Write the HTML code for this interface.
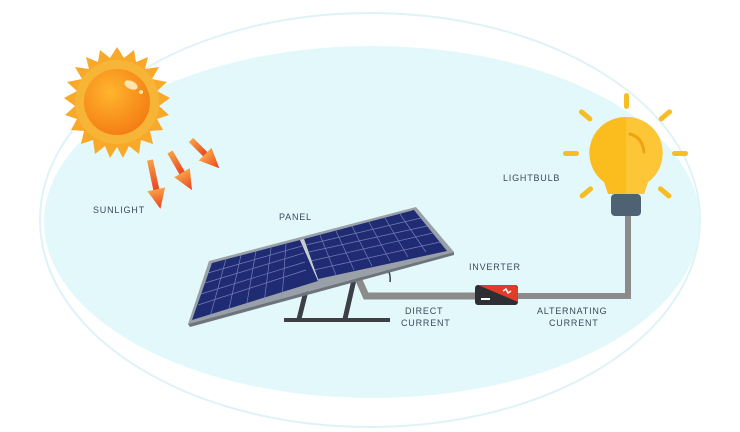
<!DOCTYPE html>
<html><head><style>
html,body{margin:0;padding:0;background:#fff;}
svg{display:block}
text{font-family:"Liberation Sans",sans-serif;font-size:9px;fill:#3b4a5a;letter-spacing:0.8px}
</style></head><body>
<svg width="740" height="432" viewBox="0 0 740 432" xmlns="http://www.w3.org/2000/svg">
<defs>
<radialGradient id="sun" cx="0.4" cy="0.35" r="0.7"><stop offset="0" stop-color="#ffb52e"/><stop offset="1" stop-color="#f47b12"/></radialGradient>
<linearGradient id="arr" x1="0" y1="0" x2="0" y2="1"><stop offset="0" stop-color="#f8a045"/><stop offset="1" stop-color="#e8401e"/></linearGradient>
</defs>
<ellipse cx="370" cy="220" rx="330" ry="207" fill="none" stroke="#dff3f6" stroke-width="2"/>
<ellipse cx="372" cy="222" rx="328" ry="176" fill="#e2f8fb"/>
<!-- sun -->
<g transform="translate(117,102)">
<polygon fill="#f8a92a" points="0,-55 7,-44 17,-52 19,-40 31,-45 28,-33 42,-35 35,-23 50,-20 40,-11 53,-4 42,4 52,13 40,17 46,28 33,29 36,42 24,38 22,52 12,44 6,56 0,45 -7,56 -12,44 -22,52 -24,38 -36,42 -33,29 -46,28 -40,17 -52,13 -42,4 -53,-4 -40,-11 -50,-20 -35,-23 -42,-35 -28,-33 -31,-45 -19,-40 -17,-52 -7,-44"/>
<circle r="42" fill="#f7b538"/>
<circle r="33" fill="url(#sun)"/>
<ellipse cx="14" cy="-17" rx="7" ry="4" fill="#ffe5b0" transform="rotate(25 14 -17)"/>
<circle cx="24" cy="-10" r="2" fill="#ffe5b0"/>
</g>
<g fill="url(#arr)">
<g transform="translate(150,160) rotate(-12)"><rect x="-3" y="0" width="6" height="32"/><polygon points="-9,30 9,30 0,50"/></g>
<g transform="translate(170,152) rotate(-30)"><rect x="-3" y="0" width="6" height="26"/><polygon points="-9,24 9,24 0,44"/></g>
<g transform="translate(191,140) rotate(-45)"><rect x="-3" y="0" width="6" height="22"/><polygon points="-9,20 9,20 0,40"/></g>
</g>
<text x="93" y="213">SUNLIGHT</text>
<text x="279" y="220">PANEL</text>
<text x="503" y="181">LIGHTBULB</text>
<text x="469" y="270">INVERTER</text>
<text x="405" y="314">DIRECT</text>
<text x="401" y="326">CURRENT</text>
<text x="537" y="314">ALTERNATING</text>
<text x="549" y="326">CURRENT</text>
<!-- stand -->
<rect x="284" y="318" width="106" height="4" fill="#3c3f45"/>
<polygon points="296,321 301,321 310,285 305,285" fill="#3c3f45"/>
<polygon points="342,321 347,321 356,282 351,282" fill="#3c3f45"/>
<!-- wires -->
<polyline points="358,278 366,296 480,296" fill="none" stroke="#8b8b8b" stroke-width="7"/>
<polyline points="510,296 628,296 628,210" fill="none" stroke="#8b8b8b" stroke-width="6"/>
<path d="M372,272 q20,-10 18,10" fill="none" stroke="#3c3f45" stroke-width="1.5"/>
<!-- panel -->
<polygon points="188,324 209,261 416,207 454,252" fill="#9aa0a8"/>
<polygon points="192,320 212,263 300,240 318,281" fill="#1f2b73"/>
<polygon points="318,279 304,239 414,210 447,251" fill="#1f2b73"/>
<polygon points="300,240 304,239 318,279 318,281" fill="#c9ccd2"/>
<g stroke="#8a93c9" stroke-width="0.7" opacity="0.8">
<line x1="210" y1="317" x2="226" y2="259"/><line x1="228" y1="313" x2="241" y2="255"/><line x1="246" y1="308" x2="256" y2="251"/><line x1="264" y1="303" x2="271" y2="248"/><line x1="282" y1="298" x2="286" y2="244"/>
<line x1="198" y1="305" x2="306" y2="270"/><line x1="201" y1="294" x2="305" y2="262"/><line x1="205" y1="283" x2="304" y2="253"/><line x1="208" y1="273" x2="302" y2="246"/>
<line x1="336" y1="275" x2="320" y2="235"/><line x1="354" y1="270" x2="336" y2="231"/><line x1="372" y1="266" x2="352" y2="226"/><line x1="390" y1="261" x2="369" y2="222"/><line x1="408" y1="257" x2="385" y2="218"/><line x1="426" y1="252" x2="400" y2="214"/>
<line x1="314" y1="270" x2="440" y2="242"/><line x1="311" y1="261" x2="433" y2="233"/><line x1="309" y1="252" x2="427" y2="226"/><line x1="306" y1="245" x2="421" y2="218"/>
</g>
<polygon points="188,324 454,252 454,255 190,327" fill="#6e747c"/>
<!-- inverter -->
<rect x="475" y="285" width="43" height="20" rx="3" fill="#2d2f35"/>
<polygon points="478,285 515,285 518,288 518,302" fill="#e23b2a"/>
<path d="M503,291 l3,-2 l2,4 l3,-2" stroke="#fff" stroke-width="1.5" fill="none"/>
<rect x="481" y="298" width="9" height="2" fill="#fff"/>
<!-- bulb -->
<g fill="#f6bd24">
<rect x="624" y="93" width="5" height="16" rx="2.5"/>
<rect x="563" y="151" width="16" height="5" rx="2.5"/>
<rect x="672" y="151" width="16" height="5" rx="2.5"/>
<rect x="578" y="113" width="16" height="5" rx="2.5" transform="rotate(40 586 115)"/>
<rect x="657" y="113" width="16" height="5" rx="2.5" transform="rotate(-40 665 115)"/>
<rect x="578" y="190" width="16" height="5" rx="2.5" transform="rotate(-40 586 192)"/>
<rect x="657" y="190" width="16" height="5" rx="2.5" transform="rotate(40 665 192)"/>
</g>
<path d="M626,117 a36,36 0 0 1 22,65 l-4,12 h-36 l-4,-12 a36,36 0 0 1 22,-65z" fill="#fbbd1e"/>
<path d="M626,117 a36,36 0 0 1 22,65 l-4,12 h-18z" fill="#fcc636"/>
<path d="M630,134 q12,3 14,18" stroke="#f0a310" stroke-width="3" fill="none" stroke-linecap="round"/>
<rect x="611" y="194" width="30" height="22" rx="4" fill="#4e6274"/>
</svg>
</body></html>
